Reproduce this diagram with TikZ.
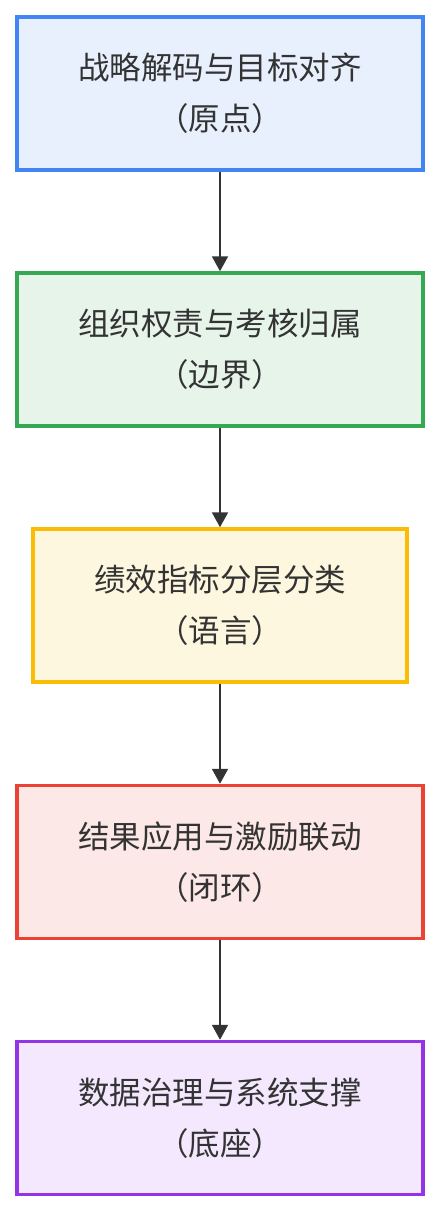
\documentclass[tikz,border=0pt]{standalone}
\usepackage{fontspec}
\setmainfont{Noto Sans CJK SC}
\usetikzlibrary{arrows.meta}
\definecolor{txt}{HTML}{333333}
\definecolor{bA}{HTML}{4285F4}\definecolor{fA}{HTML}{E8F0FE}
\definecolor{bB}{HTML}{34A853}\definecolor{fB}{HTML}{E6F4EA}
\definecolor{bC}{HTML}{FBBC04}\definecolor{fC}{HTML}{FEF7E0}
\definecolor{bD}{HTML}{EA4335}\definecolor{fD}{HTML}{FCE8E6}
\definecolor{bE}{HTML}{9334E6}\definecolor{fE}{HTML}{F3E8FD}
\begin{document}
\begin{tikzpicture}[x=1pt,y=-1pt,
  card/.style={draw, line width=3.5pt, minimum height=153pt, align=center,
    text=txt, font=\fontsize{31.5}{51}\selectfont, inner sep=0pt},
  flow/.style={draw=txt, line width=2pt, -{Triangle[width=16pt,length=15pt]}}]
\useasboundingbox (0,0) rectangle (440,1212);
\fill[white] (0,0) rectangle (440,1212);
\node[card, draw=bA, fill=fA, minimum width=406pt] (n1) at (220,93.5) {战略解码与目标对齐\\（原点）};
\node[card, draw=bB, fill=fB, minimum width=406pt] (n2) at (220,349.5) {组织权责与考核归属\\（边界）};
\node[card, draw=bC, fill=fC, minimum width=374pt] (n3) at (220,605.5) {绩效指标分层分类\\（语言）};
\node[card, draw=bD, fill=fD, minimum width=406pt] (n4) at (220,862) {结果应用与激励联动\\（闭环）};
\node[card, draw=bE, fill=fE, minimum width=406pt] (n5) at (220,1118) {数据治理与系统支撑\\（底座）};
\draw[flow] (n1.south) -- (n2.north);
\draw[flow] (n2.south) -- (n3.north);
\draw[flow] (n3.south) -- (n4.north);
\draw[flow] (n4.south) -- (n5.north);
\end{tikzpicture}
\end{document}
